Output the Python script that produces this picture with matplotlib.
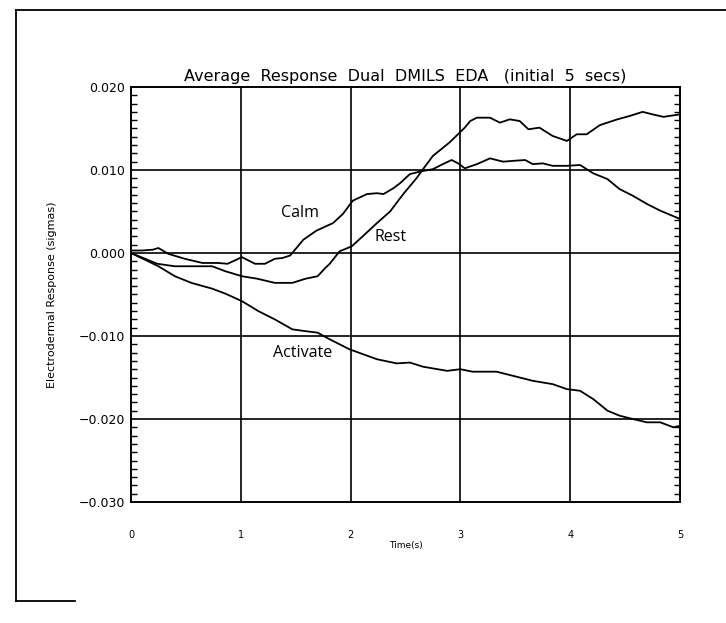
#!/usr/bin/env python3
"""
Average EDA response (Dual DMILS, first 5 seconds) - redrawn with matplotlib
"""

import matplotlib
matplotlib.use('Agg')  # no display
import matplotlib.pyplot as plt
from matplotlib.ticker import MultipleLocator
from matplotlib.lines import Line2D

# values
calm_t = [0.0, 0.10, 0.20, 0.25, 0.34, 0.49, 0.65, 0.79, 0.88, 1.01, 1.13, 1.22, 1.31, 1.38,
          1.45, 1.57, 1.69, 1.84, 1.93, 2.02, 2.15, 2.24, 2.30, 2.39, 2.45, 2.54, 2.63,
          2.75, 2.84, 2.92, 2.98, 3.04, 3.15, 3.27, 3.39, 3.48, 3.59, 3.66, 3.75, 3.84,
          3.97, 4.09, 4.21, 4.34, 4.45, 4.57, 4.70, 4.82, 5.0]
calm_y = [0.0003, 0.0003, 0.0004, 0.0006, -0.0001, -0.0007, -0.0012, -0.0012, -0.0013,
          -0.0005, -0.0013, -0.0013, -0.0007, -0.0006, -0.0003, 0.0016, 0.0027, 0.0036,
          0.0047, 0.0063, 0.0071, 0.0072, 0.0071, 0.0078, 0.0084, 0.0095, 0.0098,
          0.0101, 0.0107, 0.0112, 0.0108, 0.0102, 0.0107, 0.0114, 0.0110, 0.0111,
          0.0112, 0.0107, 0.0108, 0.0105, 0.0105, 0.0106, 0.0096, 0.0089, 0.0077,
          0.0069, 0.0059, 0.0051, 0.0041]

rest_t = [0.0, 0.24, 0.40, 0.61, 0.74, 0.86, 1.01, 1.15, 1.31, 1.47, 1.59, 1.70, 1.77,
          1.81, 1.90, 2.01, 2.11, 2.24, 2.36, 2.48, 2.60, 2.66, 2.75, 2.90, 3.04, 3.09,
          3.15, 3.27, 3.36, 3.45, 3.54, 3.62, 3.72, 3.84, 3.97, 4.06, 4.15, 4.27, 4.43,
          4.54, 4.66, 4.75, 4.85, 5.0]
rest_y = [0.0, -0.0013, -0.0016, -0.0016, -0.0016, -0.0022, -0.0028, -0.0031, -0.0036,
          -0.0036, -0.0031, -0.0028, -0.0018, -0.0013, 0.0002, 0.0008, 0.0020, 0.0036,
          0.0050, 0.0071, 0.0090, 0.0101, 0.0117, 0.0133, 0.0151, 0.0159, 0.0163,
          0.0163, 0.0157, 0.0161, 0.0159, 0.0149, 0.0151, 0.0141, 0.0135, 0.0143,
          0.0143, 0.0154, 0.0161, 0.0165, 0.0170, 0.0167, 0.0164, 0.0167]

activate_t = [0.0, 0.25, 0.40, 0.55, 0.74, 0.86, 1.01, 1.16, 1.31, 1.47, 1.58, 1.70, 1.81,
              1.99, 2.24, 2.42, 2.54, 2.66, 2.88, 3.00, 3.11, 3.33, 3.48, 3.66, 3.84, 3.97,
              4.09, 4.21, 4.34, 4.45, 4.57, 4.70, 4.82, 4.94, 5.0]
activate_y = [0.0, -0.0016, -0.0028, -0.0036, -0.0043, -0.0049, -0.0058, -0.0070, -0.0080,
              -0.0092, -0.0094, -0.0096, -0.0104, -0.0116, -0.0128, -0.0133, -0.0132,
              -0.0137, -0.0142, -0.0140, -0.0143, -0.0143, -0.0148, -0.0154, -0.0158,
              -0.0164, -0.0166, -0.0176, -0.0190, -0.0196, -0.0200, -0.0204, -0.0204,
              -0.0210, -0.0208]

y_ticks = [-0.030, -0.020, -0.010, 0.000, 0.010, 0.020]
y_tick_labels = ['\u22120.030', '\u22120.020', '\u22120.010', '0.000', '0.010', '0.020']
x_ticks = [0, 1, 2, 3, 4, 5]

# curve labels: (text, x, y)
curve_labels = [('Calm', 1.54, 0.0048), ('Rest', 2.36, 0.0019), ('Activate', 1.56, -0.0120)]


def main():
    fig = plt.figure(figsize=(7.26, 6.23), dpi=100)
    ax = fig.add_axes([0.1804, 0.1942, 0.7562, 0.6662])

    # grid first, curves on top
    for xv in x_ticks[1:-1]:
        ax.axvline(xv, color='black', linewidth=1.2, zorder=1)
    for yv in y_ticks[1:-1]:
        ax.axhline(yv, color='black', linewidth=1.2, zorder=1)

    for t, y in [(calm_t, calm_y), (rest_t, rest_y), (activate_t, activate_y)]:
        ax.plot(t, y, color='black', linewidth=1.3, zorder=2)

    for text, tx, ty in curve_labels:
        ax.text(tx, ty, text, fontsize=11.5, ha='center', va='center',
                family='Open Sans', zorder=3)

    ax.set_xlim(0, 5)
    ax.set_ylim(-0.030, 0.020)
    ax.set_xticks(x_ticks)
    ax.set_xticklabels([str(v) for v in x_ticks], fontsize=7)
    ax.set_yticks(y_ticks)
    ax.set_yticklabels(y_tick_labels, fontsize=9)
    ax.yaxis.set_minor_locator(MultipleLocator(0.001))
    ax.tick_params(axis='y', which='both', direction='in', left=True, right=True,
                   length=4.5, width=1.0)
    ax.tick_params(axis='y', which='major', length=0, pad=4)
    ax.tick_params(axis='x', which='both', length=0, pad=20)
    for sp in ax.spines.values():
        sp.set_linewidth(1.4)

    ax.set_xlabel('Time(s)', fontsize=6.5, labelpad=1)
    ax.set_ylabel('Electrodermal Response (sigmas)', fontsize=8, labelpad=16)
    ax.set_title('Average  Response  Dual  DMILS  EDA   (initial  5  secs)',
                 fontsize=11.5, pad=4)

    # page border from the scanned figure
    fig.add_artist(Line2D([16 / 726, 16 / 726], [1 - 10 / 623, 1 - 601 / 623],
                          transform=fig.transFigure, color='black', linewidth=1.3))
    fig.add_artist(Line2D([16 / 726, 1.0], [1 - 10 / 623, 1 - 10 / 623],
                          transform=fig.transFigure, color='black', linewidth=1.3))
    fig.add_artist(Line2D([16 / 726, 75 / 726], [1 - 601 / 623, 1 - 601 / 623],
                          transform=fig.transFigure, color='black', linewidth=1.3))

    plt.savefig('out.png', dpi=100)
    plt.close()


if __name__ == "__main__":
    main()
